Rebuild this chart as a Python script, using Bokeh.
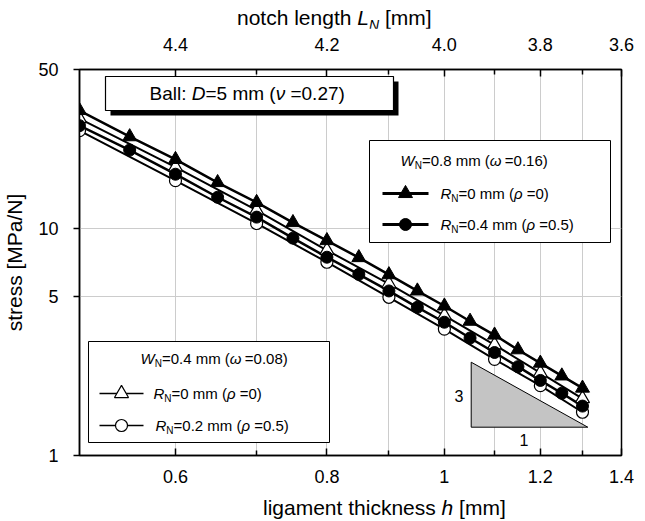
from bokeh.plotting import figure
from bokeh.models import FixedTicker, CustomJSTickFormatter, LogAxis, Label, Div
from bokeh.layouts import column
from bokeh.embed import file_html
from bokeh.resources import INLINE

# ---------------- data ----------------
h_fine = [0.50, 0.55, 0.60, 0.65, 0.70, 0.75, 0.80, 0.85, 0.90, 0.95,
          1.00, 1.05, 1.10, 1.15, 1.20, 1.25, 1.30]
stress_w08_r0 = [33.0, 25.3, 20.1, 15.9, 13.0, 10.6, 8.83, 7.43, 6.25, 5.30,
                 4.55, 3.90, 3.39, 2.92, 2.55, 2.24, 1.98]
stress_w08_r04 = [28.3, 22.1, 17.3, 13.7, 11.2, 9.05, 7.46, 6.27, 5.30, 4.49,
                  3.86, 3.29, 2.84, 2.46, 2.14, 1.88, 1.65]
h_coarse = [0.5, 0.6, 0.7, 0.8, 0.9, 1.0, 1.1, 1.2, 1.3]
stress_w04_r0 = [30.4, 18.6, 12.0, 8.0, 5.7, 4.13, 3.07, 2.31, 1.78]
stress_w04_r02 = [26.9, 16.2, 10.5, 7.09, 4.97, 3.60, 2.65, 2.03, 1.55]

x_major = [0.6, 0.8, 1.0, 1.2, 1.4]
x_minor = [0.7, 0.9, 1.1, 1.3]
x_grid = [0.6, 0.7, 0.8, 0.9, 1.0, 1.1, 1.2, 1.3]
y_major = [1, 5, 10, 50]
y_grid = [5, 10]
notch_total = 5.0   # L_N = 5 - h
X_RANGE = (0.5, 1.4)
Y_RANGE = (1, 50)

FONT = "Liberation Sans"

# ---------------- layout (image px) ----------------
FL, FR, FTOP, FB = 79, 621, 69, 455
TOP_DIV_H = 28
BOT_DIV_H = 26
BORDER_TOP = FTOP - TOP_DIV_H
BORDER_BOTTOM = 38
BORDER_RIGHT = 15
FIG_W = FR + BORDER_RIGHT
TRI_SIZE = 14
CIRC_SIZE = 12


def dx(px):
    return X_RANGE[0] * (X_RANGE[1] / X_RANGE[0]) ** ((px - FL) / (FR - FL))


def dy(py):
    return Y_RANGE[0] * (Y_RANGE[1] / Y_RANGE[0]) ** ((FB - py) / (FB - FTOP))


WID = {' ': 278, '.': 278, '=': 584, '(': 333, ')': 333, '[': 278, ']': 278,
       ':': 278, '/': 278, 'a': 556, 'b': 556, 'c': 500, 'd': 556, 'e': 556,
       'g': 556, 'h': 556, 'i': 222, 'k': 500, 'l': 222, 'm': 833, 'n': 556,
       'o': 556, 's': 500, 't': 278, 'r': 333, 'B': 667, 'D': 722, 'L': 556,
       'M': 833, 'N': 722, 'P': 667, 'R': 722, 'W': 944,
       '\u03c9': 720, '\u03bd': 500, '\u03c1': 570}


def tw(s, size):
    return sum(WID.get(c, 556) for c in s) * size / 1000.0


p = figure(x_axis_type="log", y_axis_type="log", x_range=X_RANGE, y_range=Y_RANGE,
           frame_width=FR - FL, frame_height=FB - FTOP,
           min_border_left=FL, min_border_right=BORDER_RIGHT,
           min_border_top=BORDER_TOP, min_border_bottom=BORDER_BOTTOM,
           output_backend="svg", toolbar_location=None)
p.background_fill_color = "white"
p.border_fill_color = "white"
p.outline_line_color = "black"
p.outline_line_width = 1.5


def rich(px, py, pieces):
    x = px
    for txt, size, style, off in pieces:
        sp = WID[' '] * size / 1000.0
        lead = len(txt) - len(txt.lstrip(' '))
        core = txt.strip(' ')
        trail = len(txt) - lead - len(core)
        x += lead * sp
        p.add_layout(Label(x=dx(x), y=dy(py + off), text=core, text_font=FONT,
                           text_font_size=f"{size}px", text_font_style=style,
                           text_align="left", text_baseline="middle",
                           text_color="black"))
        x += tw(core, size) + trail * sp


# ---------------- axes ----------------
p.xaxis.ticker = FixedTicker(ticks=x_major, minor_ticks=x_minor)
p.xaxis.formatter = CustomJSTickFormatter(code="return String(Number(tick.toFixed(1)))")
p.yaxis.ticker = FixedTicker(ticks=y_major)
p.yaxis.formatter = CustomJSTickFormatter(code="return tick.toFixed(0)")
p.xgrid.ticker = FixedTicker(ticks=x_grid)
p.ygrid.ticker = FixedTicker(ticks=y_grid)
p.grid.grid_line_color = "#cccccc"
p.grid.grid_line_width = 1

for ax in p.xaxis:
    ax.major_tick_in = 7
    ax.major_tick_out = 0
    ax.minor_tick_in = 5
    ax.minor_tick_out = 0
    ax.major_label_standoff = 14
for ax in p.yaxis:
    ax.major_tick_in = 0
    ax.major_tick_out = 6
    ax.minor_tick_line_color = None
    ax.major_label_standoff = 15
    ax.axis_label = "stress [MPa/N]"
    ax.axis_label_standoff = 9
    ax.axis_label_text_font = FONT
    ax.axis_label_text_font_size = "21px"
    ax.axis_label_text_font_style = "normal"
    ax.axis_label_text_color = "black"

top = LogAxis(ticker=FixedTicker(ticks=x_major, minor_ticks=x_minor),
              formatter=CustomJSTickFormatter(args=dict(total=notch_total),
                                              code="return (total - tick).toFixed(1)"))
top.major_tick_in = 7
top.major_tick_out = 0
top.minor_tick_in = 5
top.minor_tick_out = 0
top.major_label_standoff = 19
p.add_layout(top, "above")

for ax in list(p.xaxis) + list(p.yaxis) + [top]:
    ax.axis_line_color = "black"
    ax.axis_line_width = 1.5
    ax.major_tick_line_color = "black"
    ax.major_tick_line_width = 1.5
    ax.minor_tick_line_width = 1.5
    ax.major_label_text_font = FONT
    ax.major_label_text_font_size = "18px"
    ax.major_label_text_color = "black"

# ---------------- data series ----------------
p.line(h_coarse, stress_w04_r02, line_color="black", line_width=2)
p.line(h_coarse, stress_w04_r0, line_color="black", line_width=2)
p.line(h_fine, stress_w08_r04, line_color="black", line_width=2.5)
p.line(h_fine, stress_w08_r0, line_color="black", line_width=2.5)

p.scatter(h_coarse, stress_w04_r02, marker="circle", size=CIRC_SIZE, fill_color="white",
          line_color="black", line_width=1.2)
p.scatter(h_coarse, stress_w04_r0, marker="triangle", size=TRI_SIZE, fill_color="white",
          line_color="black", line_width=1.2)
p.scatter(h_fine, stress_w08_r04, marker="circle", size=CIRC_SIZE, fill_color="black",
          line_color="black")
p.scatter(h_fine, stress_w08_r0, marker="triangle", size=TRI_SIZE, fill_color="black",
          line_color="black")

# ---------------- slope triangle ----------------
tri_px_x = [470.7, 470.7, 587.3]
tri_px_y = [361.7, 426.7, 426.7]
p.patch([dx(v) for v in tri_px_x], [dy(v) for v in tri_px_y], fill_color="#c4c4c4",
        line_color="black", line_width=1)
rich(454, 395, [("3", 16, "normal", 0)])
rich(519, 439, [("1", 16, "normal", 0)])

# ---------------- "Ball" box ----------------
p.quad(left=dx(110), right=dx(398), top=dy(81), bottom=dy(115), fill_color="black",
       line_color=None)
p.quad(left=dx(105), right=dx(393), top=dy(76), bottom=dy(110), fill_color="white",
       line_color="black", line_width=1.2)
rich(149, 93, [("Ball: ", 19, "normal", 0), ("D", 19, "italic", 0),
               ("=5 mm (", 19, "normal", 0), ("\u03bd", 19, "italic", 0),
               (" =0.27)", 19, "normal", 0)])

# ---------------- upper legend ----------------
p.quad(left=dx(369), right=dx(610), top=dy(140), bottom=dy(242), fill_color="white",
       line_color="black", line_width=1)
rich(400, 160, [("W", 15, "italic", 0), ("N", 10, "normal", 5),
                ("=0.8 mm (", 15, "normal", 0), ("\u03c9", 15, "italic", 0),
                (" =0.16)", 15, "normal", 0)])
p.line([dx(382), dx(428)], [dy(193), dy(193)], line_color="black", line_width=3)
p.scatter([dx(405)], [dy(193)], marker="triangle", size=TRI_SIZE, fill_color="black",
          line_color="black")
rich(440, 193, [("R", 15, "italic", 0), ("N", 10, "normal", 5),
                ("=0 mm (", 15, "normal", 0), ("\u03c1", 15, "italic", 0),
                (" =0)", 15, "normal", 0)])
p.line([dx(382), dx(428)], [dy(224), dy(224)], line_color="black", line_width=3)
p.scatter([dx(405)], [dy(224)], marker="circle", size=CIRC_SIZE, fill_color="black",
          line_color="black")
rich(440, 224, [("R", 15, "italic", 0), ("N", 10, "normal", 5),
                ("=0.4 mm (", 15, "normal", 0), ("\u03c1", 15, "italic", 0),
                (" =0.5)", 15, "normal", 0)])

# ---------------- lower legend ----------------
p.quad(left=dx(88), right=dx(329), top=dy(341), bottom=dy(442), fill_color="white",
       line_color="black", line_width=1)
rich(140, 358, [("W", 15, "italic", 0), ("N", 10, "normal", 5),
                ("=0.4 mm (", 15, "normal", 0), ("\u03c9", 15, "italic", 0),
                (" =0.08)", 15, "normal", 0)])
p.line([dx(99), dx(143)], [dy(393), dy(393)], line_color="black", line_width=1.5)
p.scatter([dx(121)], [dy(393)], marker="triangle", size=TRI_SIZE, fill_color="white",
          line_color="black", line_width=1.2)
rich(153, 393, [("R", 15, "italic", 0), ("N", 10, "normal", 5),
                ("=0 mm (", 15, "normal", 0), ("\u03c1", 15, "italic", 0),
                (" =0)", 15, "normal", 0)])
p.line([dx(99), dx(143)], [dy(425), dy(425)], line_color="black", line_width=1.5)
p.scatter([dx(121)], [dy(425)], marker="circle", size=CIRC_SIZE, fill_color="white",
          line_color="black", line_width=1.2)
rich(155, 425, [("R", 15, "italic", 0), ("N", 10, "normal", 5),
                ("=0.2 mm (", 15, "normal", 0), ("\u03c1", 15, "italic", 0),
                (" =0.5)", 15, "normal", 0)])

# ---------------- axis titles as HTML text ----------------
title_style = ("font-family:'Liberation Sans'; font-size:21px; color:black; "
               "white-space:nowrap; line-height:28px;")
top_div = Div(text=(f'<div style="{title_style} margin:4px 0 0 237px;">'
                    'notch length <i>L</i><sub style="font-size:14px; font-style:italic;">N</sub> [mm]</div>'),
              width=FIG_W, height=TOP_DIV_H, margin=0)
bot_div = Div(text=(f'<div style="{title_style} margin:1px 0 0 263px;">'
                    'ligament thickness <i>h</i> [mm]</div>'),
              width=FIG_W, height=BOT_DIV_H, margin=0)

layout = column(top_div, p, bot_div, spacing=0)
open("out.html", "w").write(file_html(layout, INLINE))
